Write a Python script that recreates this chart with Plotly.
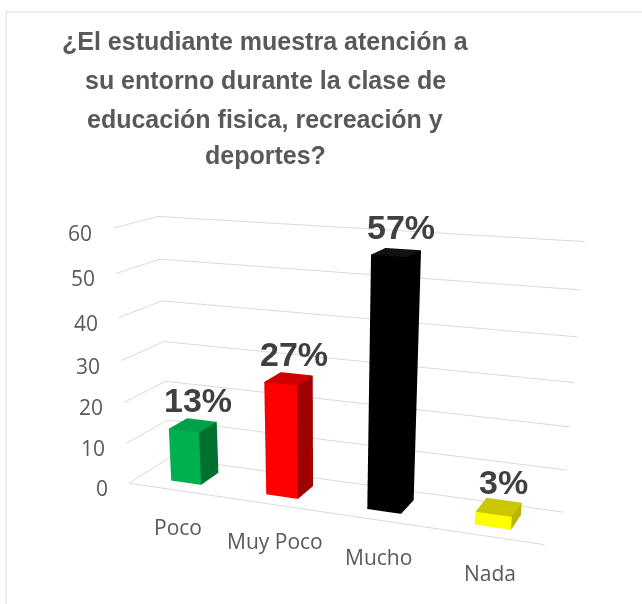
import plotly.graph_objects as go

categories = ["Poco", "Muy Poco", "Mucho", "Nada"]
values = [13, 27, 57, 3]
labels = ["13%", "27%", "57%", "3%"]
front_colors = ["#00B050", "#FF0000", "#000000", "#FFFF00"]
side_colors = ["#007030", "#A00000", "#000000", "#B8B400"]
top_colors = ["#00A048", "#D00000", "#111111", "#CCC600"]
z_ticks = [0, 10, 20, 30, 40, 50, 60]
title_lines = [
    "¿El estudiante muestra atención a",
    "su entorno durante la clase de",
    "educación fisica, recreación y",
    "deportes?",
]

W, H = 642, 1000   # figure taller than the window; only the top 604 px are visible
fig = go.Figure()

bw = 0.32   # bar width (x, category units)
bd = 0.46   # bar depth (y)
yc = 0.5
x_min, x_max = -0.5, 3.5
y_min, y_max = 0, 1

for i, (v, fc, sc, tc) in enumerate(zip(values, front_colors, side_colors, top_colors)):
    x0, x1 = i - bw / 2, i + bw / 2
    y0, y1 = yc - bd / 2, yc + bd / 2
    z0, z1 = 0, v
    xs = [x0, x1, x1, x0, x0, x1, x1, x0]
    ys = [y0, y0, y1, y1, y0, y0, y1, y1]
    zs = [z0, z0, z0, z0, z1, z1, z1, z1]
    tris = [
        (0, 1, 5, fc), (0, 5, 4, fc),      # front
        (1, 2, 6, sc), (1, 6, 5, sc),      # right side
        (4, 5, 6, tc), (4, 6, 7, tc),      # top
        (3, 2, 6, sc), (3, 6, 7, sc),      # back
        (0, 3, 7, sc), (0, 7, 4, sc),      # left
        (0, 1, 2, sc), (0, 2, 3, sc),      # bottom
    ]
    fig.add_trace(go.Mesh3d(
        x=xs, y=ys, z=zs,
        i=[t[0] for t in tris], j=[t[1] for t in tris], k=[t[2] for t in tris],
        facecolor=[t[3] for t in tris],
        flatshading=True,
        lighting=dict(ambient=1, diffuse=0, specular=0, roughness=1, fresnel=0),
        hoverinfo="skip", showscale=False,
    ))

# floor front edge
fig.add_trace(go.Scatter3d(
    x=[x_min, x_max], y=[y_min, y_min], z=[0, 0], mode="lines",
    line=dict(color="#D9D9D9", width=2), hoverinfo="skip", showlegend=False,
))

title_y = [41.5, 79.5, 118.5, 155.5]
annotations = [
    dict(text=t, xref="paper", yref="paper", x=265 / W, y=1 - yy / H,
         xanchor="center", yanchor="middle", showarrow=False,
         font=dict(family="Liberation Sans", size=25, color="#595959", weight="bold"))
    for t, yy in zip(title_lines, title_y)
]

tick_font = dict(family="Open Sans", size=21, color="#595959")
scene_ann = []
# value labels
for i, (v, lab) in enumerate(zip(values, labels)):
    scene_ann.append(dict(x=i, y=yc, z=v, text=lab, showarrow=False, xshift=5, yshift=25,
                          font=dict(family="Liberation Sans", size=34, color="#404040", weight="bold")))
# category labels (below the floor front edge)
for i, c in enumerate(categories):
    scene_ann.append(dict(x=i, y=y_min, z=0, text=c, showarrow=False, xshift=3, yshift=-37,
                          font=tick_font))
# value-axis labels (left of the front-left edge)
for t in z_ticks:
    scene_ann.append(dict(x=x_min, y=y_min, z=t, text=str(t), showarrow=False,
                          xanchor="right", xshift=-19, yshift=-5, font=tick_font))

dy = 0.0425
center = dict(x=-0.087, y=0.041 - dy, z=-0.595)
eye = dict(x=1.779, y=-4.586 - dy, z=1.318)

fig.update_layout(
    width=W, height=H,
    paper_bgcolor="white",
    margin=dict(l=0, r=0, t=0, b=0),
    showlegend=False,
    annotations=annotations,
    scene=dict(
        domain=dict(x=[0, 1], y=[0, 1]),
        xaxis=dict(
            range=[x_min, x_max], tickvals=[0, 1, 2, 3], showticklabels=False,
            showgrid=False, zeroline=False, showline=False, showbackground=False,
            title="", showspikes=False,
        ),
        yaxis=dict(
            range=[y_min, y_max], showgrid=False, zeroline=False, showline=False,
            showbackground=False, showticklabels=False, title="", showspikes=False,
        ),
        zaxis=dict(
            range=[0, 60], tickvals=z_ticks, showticklabels=False,
            showgrid=True, gridcolor="#D9D9D9", gridwidth=2,
            zeroline=False, showline=False, showbackground=False,
            title="", showspikes=False,
        ),
        aspectmode="manual",
        aspectratio=dict(x=1.9, y=0.38, z=1.14),
        camera=dict(eye=eye, center=center, up=dict(x=0, y=0, z=1),
                    projection=dict(type="perspective")),
        annotations=scene_ann,
    ),
    shapes=[dict(type="rect", xref="paper", yref="paper", x0=6 / W, x1=1.05, y0=-0.05, y1=1 - 12 / H,
                 line=dict(color="#D9D9D9", width=1))],
)

fig.write_html("out.html", config={"displayModeBar": False},
               post_script="document.body.style.margin='0';")
